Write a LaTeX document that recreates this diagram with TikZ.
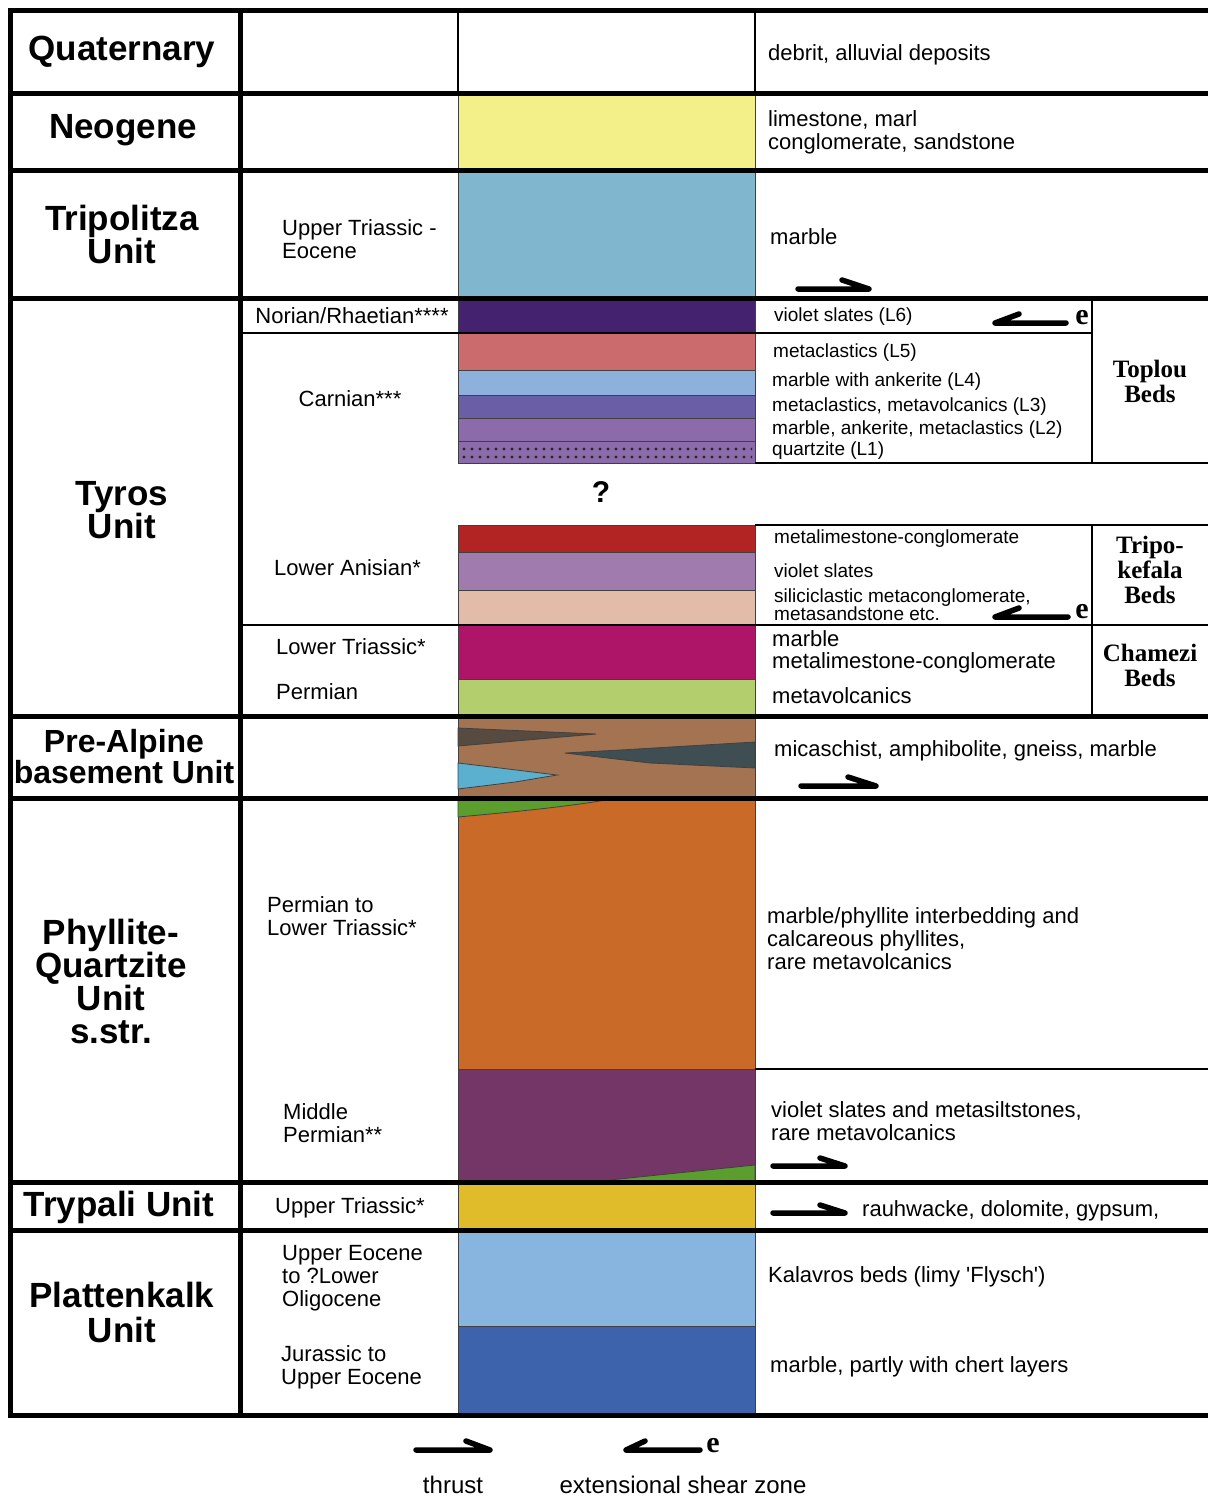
\documentclass[tikz,border=0pt]{standalone}
\usepackage{fontspec}
\setmainfont{Liberation Sans}
\newfontfamily\bedsfont{Liberation Serif}
\usetikzlibrary{patterns.meta}
\definecolor{neog}{HTML}{F3F08A}
\definecolor{tripo}{HTML}{80B7CE}
\definecolor{norian}{HTML}{45226F}
\definecolor{lfive}{HTML}{CB6B6E}
\definecolor{lfour}{HTML}{8DB0DD}
\definecolor{lthree}{HTML}{6A5FA6}
\definecolor{ltwo}{HTML}{8C6BAA}
\definecolor{anired}{HTML}{B22323}
\definecolor{mauve}{HTML}{A07BAD}
\definecolor{peach}{HTML}{E2BCA8}
\definecolor{ltrias}{HTML}{AE1468}
\definecolor{permg}{HTML}{B3CF6D}
\definecolor{brun}{HTML}{A47452}
\definecolor{lensa}{HTML}{574A40}
\definecolor{lensb}{HTML}{3E4E52}
\definecolor{lensc}{HTML}{5BB0CF}
\definecolor{vert}{HTML}{5B9E2E}
\definecolor{orange}{HTML}{C96A29}
\definecolor{mperm}{HTML}{733667}
\definecolor{gold}{HTML}{E1BC2A}
\definecolor{pltclair}{HTML}{88B4E0}
\definecolor{pltfonce}{HTML}{3D63AD}

\begin{document}
\begin{tikzpicture}[x=1pt,y=-1pt]
\useasboundingbox (0,0) rectangle (1208,1497);
\tikzstyle{couche}=[draw=black!75,line width=0.8pt]
\tikzstyle{fin}=[line width=1.5pt]
\tikzstyle{epais}=[line width=5pt]
\tikzstyle{unite}=[font=\bfseries\fontsize{35}{33}\selectfont,align=center]
\tikzstyle{age}=[font=\fontsize{22}{23}\selectfont,align=left,anchor=west,inner sep=0]
\tikzstyle{litho}=[font=\fontsize{22}{23}\selectfont,align=left,anchor=west,inner sep=0]
\tikzstyle{petit}=[font=\fontsize{19}{18}\selectfont,align=left,anchor=west,inner sep=0]
\tikzstyle{couches}=[font=\bedsfont\bfseries\fontsize{25}{25}\selectfont,align=center]
\tikzstyle{ext}=[font=\bedsfont\bfseries\fontsize{30}{30}\selectfont,inner sep=0]
\tikzstyle{faille}=[line width=5.5pt,line cap=round,line join=round]

% colonne lithologique
\filldraw[couche,fill=neog] (458,93) rectangle (755,170);
\filldraw[couche,fill=tripo] (458,170) rectangle (755,298);
\filldraw[couche,fill=norian] (458,298) rectangle (755,333);
\filldraw[couche,fill=lfive] (458,333) rectangle (755,370);
\filldraw[couche,fill=lfour] (458,370) rectangle (755,395);
\filldraw[couche,fill=lthree] (458,395) rectangle (755,418);
\filldraw[couche,fill=ltwo] (458,418) rectangle (755,441);
\filldraw[couche,fill=ltwo] (458,441) rectangle (755,463);
\fill[pattern={Dots[distance=8pt,radius=1.6pt]},pattern color=black!85] (461,444) rectangle (752,460);
\filldraw[couche,fill=anired] (458,525) rectangle (755,552);
\filldraw[couche,fill=mauve] (458,552) rectangle (755,590);
\filldraw[couche,fill=peach] (458,590) rectangle (755,625);
\filldraw[couche,fill=ltrias] (458,625) rectangle (755,679);
\filldraw[couche,fill=permg] (458,679) rectangle (755,716);
\filldraw[couche,fill=brun] (458,716) rectangle (755,798);
\filldraw[couche,fill=lensa] (458,728) -- (596,734) -- (458,746) -- cycle;
\filldraw[couche,fill=lensb] (565,753) -- (620,750) -- (755,742) -- (755,768) -- (650,763) -- cycle;
\filldraw[couche,fill=lensc] (458,763) -- (500,768) -- (557,775) -- (515,782) -- (458,789) -- cycle;
\filldraw[couche,fill=orange] (458,798) rectangle (755,1069);
\filldraw[couche,fill=vert] (458,800) -- (612,799) .. controls (560,808) and (500,813) .. (458,817) -- cycle;
\filldraw[couche,fill=mperm] (458,1069) rectangle (755,1182);
\filldraw[couche,fill=vert] (600,1181) -- (755,1165) -- (755,1182) -- cycle;
\filldraw[couche,fill=gold] (458,1182) rectangle (755,1230);
\filldraw[couche,fill=pltclair] (458,1230) rectangle (755,1326);
\filldraw[couche,fill=pltfonce] (458,1326) rectangle (755,1415);

% traits fins
\draw[fin] (458,10) -- (458,93);
\draw[fin] (755,10) -- (755,93);
\draw[fin] (240,333) -- (1092,333);
\draw[fin] (1092,298) -- (1092,463);
\draw[fin] (755,463) -- (1208,463);
\draw[fin] (755,525) -- (1208,525);
\draw[fin] (1092,525) -- (1092,716);
\draw[fin,line width=2.5pt] (240,625) -- (1208,625);
\draw[fin] (755,1069) -- (1208,1069);

% traits epais
\draw[epais] (1208,10) -- (10,10) -- (10,1415) -- (1208,1415);
\draw[epais] (240,10) -- (240,1415);
\draw[epais] (10,93) -- (1208,93);
\draw[epais] (10,170) -- (1208,170);
\draw[epais] (10,298) -- (1208,298);
\draw[epais] (10,716) -- (1208,716);
\draw[epais] (10,798) -- (1208,798);
\draw[epais] (10,1182) -- (1208,1182);
\draw[epais] (10,1230) -- (1208,1230);

\node[unite] (quat) at (122,52) {Quaternary};
\node[unite] (neo) at (123,130) {Neogene};
\node[unite] (tripu) at (122,234) {Tripolitza\\Unit};
\node[unite] (tyros) at (122,510) {Tyros\\Unit};
\node[unite,font=\bfseries\fontsize{32}{31}\selectfont] (prealp) at (124,757) {Pre-Alpine\\basement Unit};
\node[unite] (phyl) at (111,981) {Phyllite-\\Quartzite\\Unit\\s.str.};
\node[unite] (tryp) at (119,1207) {Trypali Unit};
\node[unite,font=\bfseries\fontsize{35}{35}\selectfont] (platt) at (122,1312) {Plattenkalk\\Unit};

\node[age] (utreo) at (282,239) {Upper Triassic -\\Eocene};
\node[age,anchor=center] (nor) at (352,316) {Norian/Rhaetian****};
\node[age,anchor=center] (carn) at (350,399) {Carnian***};
\node[age] (lan) at (274,568) {Lower Anisian*};
\node[age] (ltr) at (276,647) {Lower Triassic*};
\node[age] (perm) at (276,692) {Permian};
\node[age] (pltr) at (267,916) {Permian to\\Lower Triassic*};
\node[age] (midp) at (283,1123) {Middle\\Permian**};
\node[age,anchor=center] (utr) at (350,1208) {Upper Triassic*};
\node[age] (ueo) at (282,1278) {Upper Eocene\\to ?Lower\\Oligocene};
\node[age] (jur) at (281,1367) {Jurassic to\\Upper Eocene};

\node[font=\bfseries\fontsize{30}{30}\selectfont] (quest) at (601,492) {?};

\node[litho] (debr) at (768,55) {debrit, alluvial deposits};
\node[litho] (lime) at (768,132) {limestone, marl\\conglomerate, sandstone};
\node[litho] (marb) at (770,237) {marble};
\node[petit] (lsix) at (774,317) {violet slates (L6)};
\node[petit] (lcinq) at (773,353) {metaclastics (L5)};
\node[petit] (lquatre) at (772,382) {marble with ankerite (L4)};
\node[petit] (ltrois) at (772,407) {metaclastics, metavolcanics (L3)};
\node[petit] (ldeux) at (772,430) {marble, ankerite, metaclastics (L2)};
\node[petit] (lun) at (772,451) {quartzite (L1)};
\node[petit] (mlc) at (774,539) {metalimestone-conglomerate};
\node[petit] (vsl) at (774,571) {violet slates};
\node[petit] (sili) at (774,605) {siliciclastic metaconglomerate,\\metasandstone etc.};
\node[litho] (cmarb) at (772,639) {marble};
\node[litho] (cmlc) at (772,663) {metalimestone-conglomerate};
\node[litho] (cmv) at (772,696) {metavolcanics};
\node[litho] (mica) at (774,751) {micaschist, amphibolite, gneiss, marble};
\node[litho] (mpi) at (767,939) {marble/phyllite interbedding and\\calcareous phyllites,\\rare metavolcanics};
\node[litho] (vsms) at (771,1121) {violet slates and metasiltstones,\\rare metavolcanics};
\node[litho] (rauh) at (862,1211) {rauhwacke, dolomite, gypsum,};
\node[litho] (kal) at (768,1277) {Kalavros beds (limy \textquotesingle Flysch\textquotesingle)};
\node[litho] (mchert) at (770,1367) {marble, partly with chert layers};

\node[couches] (toplou) at (1150,381) {Toplou\\Beds};
\node[couches] (tripk) at (1150,570) {Tripo-\\kefala\\Beds};
\node[couches] (chamezi) at (1150,665) {Chamezi\\Beds};

% chevauchements et zones de cisaillement
\draw[faille] (798,289) -- (869,289) -- (842,280);
\draw[faille] (801,786) -- (876,786) -- (848,777);
\draw[faille] (773,1166) -- (845,1166) -- (820,1158);
\draw[faille] (773,1213) -- (845,1213) -- (820,1205);
\draw[faille] (1019,314) -- (995,323) -- (1066,323);
\node[ext] (eun) at (1082,318) {e};
\draw[faille] (1019,608) -- (995,617) -- (1068,617);
\node[ext] (edeux) at (1082,612) {e};

% legende
\draw[faille] (416,1450) -- (490,1450) -- (466,1441);
\draw[faille] (645,1441) -- (626,1450) -- (700,1450);
\node[ext] (etrois) at (713,1446) {e};
\node[litho,font=\fontsize{24}{24}\selectfont,anchor=center] (thr) at (453,1485) {thrust};
\node[litho,font=\fontsize{24}{24}\selectfont,anchor=center] (esz) at (683,1485) {extensional shear zone};
\end{tikzpicture}
\end{document}
